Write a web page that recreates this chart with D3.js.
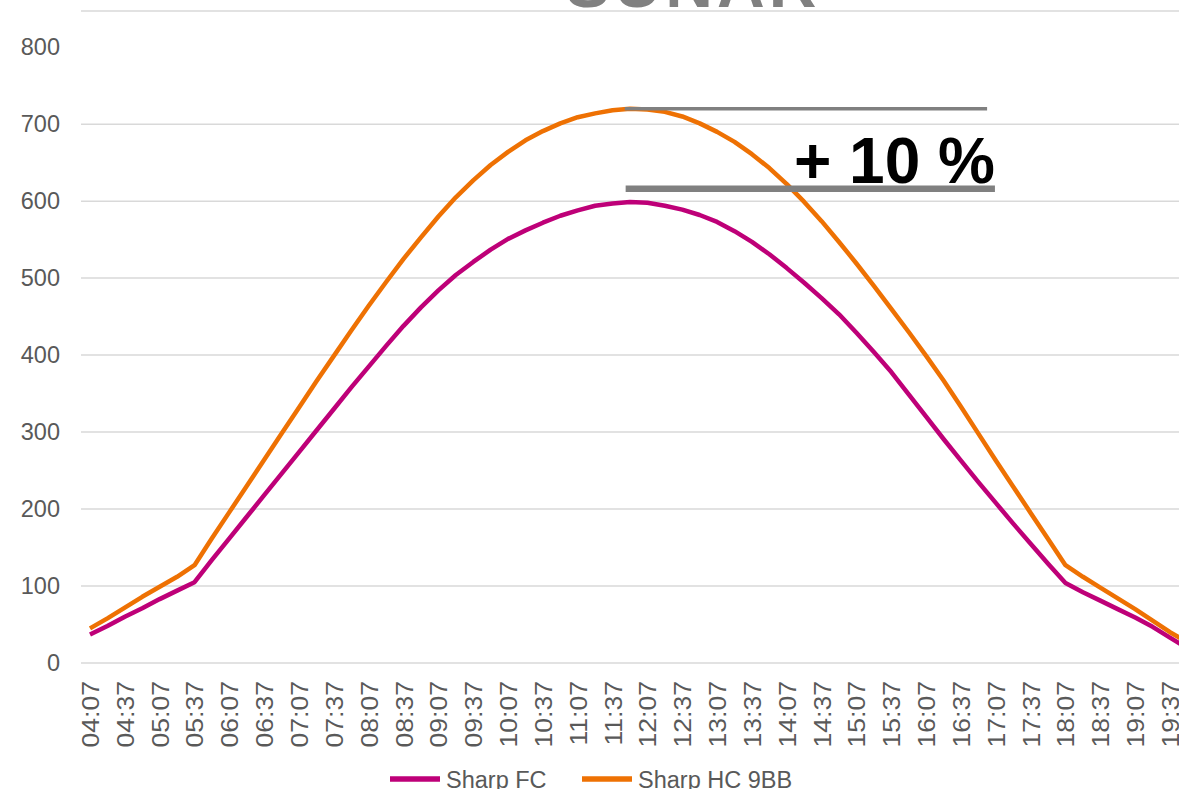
<!DOCTYPE html>
<html>
<head>
<meta charset="utf-8">
<script src="https://cdn.jsdelivr.net/npm/d3@7"></script>
<style>
  html, body { margin: 0; padding: 0; background: #fff; }
  svg { display: block; }
</style>
</head>
<body>
<div id="chart"></div>
<script>
// ---- data (15-minute samples) ----
const times = [
  "04:07","04:22","04:37","04:52","05:07","05:22","05:37","05:52","06:07","06:22","06:37","06:52",
  "07:07","07:22","07:37","07:52","08:07","08:22","08:37","08:52","09:07","09:22","09:37","09:52",
  "10:07","10:22","10:37","10:52","11:07","11:22","11:37","11:52","12:07","12:22","12:37","12:52",
  "13:07","13:22","13:37","13:52","14:07","14:22","14:37","14:52","15:07","15:22","15:37","15:52",
  "16:07","16:22","16:37","16:52","17:07","17:22","17:37","17:52","18:07","18:22","18:37","18:52",
  "19:07","19:22","19:37","19:52"
];
const sharpFC = [
  37, 48, 60, 71, 83, 94, 105, 134, 162, 190, 218, 246,
  274, 302, 330, 358, 385, 412, 438, 462, 484, 504, 521, 537,
  551, 562, 572, 581, 588, 594, 597, 599, 598, 594, 589, 582,
  573, 561, 547, 531, 513, 494, 474, 453, 429, 404, 378, 349,
  320, 291, 263, 235, 208, 181, 155, 129, 104, 92, 81, 70,
  59, 47, 33, 19
];
const sharpHC9BB = [
  45, 58, 72, 86, 99, 112, 127, 162, 196, 230, 264, 298,
  332, 366, 399, 432, 464, 495, 525, 553, 580, 605, 627, 647,
  664, 679, 691, 701, 709, 714, 718, 720, 719, 716, 710, 701,
  690, 677, 661, 643, 622, 599, 574, 547, 519, 490, 460, 430,
  399, 367, 333, 298, 263, 229, 195, 161, 127, 112, 98, 84,
  70, 55, 40, 27
];
const seriesNames = ["Sharp FC", "Sharp HC 9BB"];
const seriesColors = ["#BE0078", "#EE7103"];
const yTicks = [0, 100, 200, 300, 400, 500, 600, 700, 800];
const gridValues = [0, 100, 200, 300, 400, 500, 600, 700];
const xLabelEvery = 2;
const titleText = "SUNAR";
const annotationText = "+ 10 %";
const peakLines = [
  { value: 720, from: 30.7, to: 51.5, width: 3.5 },
  { value: 616, from: 30.75, to: 51.95, width: 6.5 }
];

// ---- layout ----
const W = 1179, H = 789;
const font = "'Liberation Sans', Arial, sans-serif";
const svg = d3.select("#chart").append("svg").attr("width", W).attr("height", H);
svg.append("rect").attr("width", W).attr("height", H).attr("fill", "#fff");

const x = d3.scaleLinear().domain([0, times.length - 2]).range([90, 1170]);
const y = d3.scaleLinear().domain([0, 847]).range([663, 11]);
const plotLeft = 81, plotRight = W;

// title (cut off at the top)
svg.append("text").attr("x", 693).attr("y", 7)
  .attr("text-anchor", "middle")
  .attr("font-family", font).attr("font-weight", "bold").attr("font-size", 66)
  .attr("letter-spacing", 4)
  .attr("fill", "#808080").text(titleText);

// gridlines
svg.append("g").selectAll("line").data(gridValues).join("line")
  .attr("x1", plotLeft).attr("x2", plotRight)
  .attr("y1", d => y(d)).attr("y2", d => y(d))
  .attr("stroke", "#D9D9D9").attr("stroke-width", 1.5);
// plot-area top border
svg.append("line").attr("x1", plotLeft).attr("x2", plotRight)
  .attr("y1", y.range()[1]).attr("y2", y.range()[1])
  .attr("stroke", "#D9D9D9").attr("stroke-width", 1.5);

// y axis
const yAxis = svg.append("g").attr("transform", `translate(${plotLeft},0)`)
  .call(d3.axisLeft(y).tickValues(yTicks).tickSize(0).tickPadding(21).tickFormat(d3.format("d")));
yAxis.select(".domain").remove();
yAxis.selectAll("text").attr("font-family", font).attr("font-size", 23.5).attr("fill", "#595959");

// x axis labels
const labelIdx = times.map((t, i) => i).filter(i => i % xLabelEvery === 0 && i <= times.length - 2);
const xAxis = svg.append("g").attr("transform", `translate(0,${y(0)})`)
  .call(d3.axisBottom(x).tickValues(labelIdx).tickSize(0).tickFormat(i => times[i]));
xAxis.select(".domain").remove();
const stretch = 1.13;
xAxis.selectAll("text")
  .attr("font-family", font).attr("font-size", 23.5).attr("fill", "#595959")
  .attr("text-anchor", "end")
  .attr("transform", `rotate(-90) scale(${stretch},1)`)
  .attr("x", -18 / stretch).attr("y", 0).attr("dy", "0.36em");

// lines
const line = d3.line().x((d, i) => x(i)).y(d => y(d));
[sharpFC, sharpHC9BB].forEach((data, k) => {
  svg.append("path").datum(data)
    .attr("fill", "none").attr("stroke", seriesColors[k])
    .attr("stroke-width", 4.5).attr("stroke-linejoin", "round")
    .attr("d", line);
});

// annotation lines + text
svg.append("g").selectAll("line").data(peakLines).join("line")
  .attr("x1", d => x(d.from)).attr("x2", d => x(d.to))
  .attr("y1", d => y(d.value)).attr("y2", d => y(d.value))
  .attr("stroke", "#808080").attr("stroke-width", d => d.width);
svg.append("text")
  .attr("x", x(peakLines[1].to)).attr("y", y(peakLines[1].value) - 6)
  .attr("text-anchor", "end")
  .attr("font-family", font).attr("font-weight", "bold").attr("font-size", 64)
  .attr("fill", "#000").text(annotationText);

// legend
const legendItems = [
  { name: seriesNames[0], color: seriesColors[0], x: 390 },
  { name: seriesNames[1], color: seriesColors[1], x: 582 }
];
const lg = svg.append("g");
legendItems.forEach(it => {
  lg.append("line").attr("x1", it.x).attr("x2", it.x + 50)
    .attr("y1", 779).attr("y2", 779)
    .attr("stroke", it.color).attr("stroke-width", 5.5);
  lg.append("text").attr("x", it.x + 56).attr("y", 787.5)
    .attr("font-family", font).attr("font-size", 23.5).attr("fill", "#595959")
    .text(it.name);
});
</script>
</body>
</html>
